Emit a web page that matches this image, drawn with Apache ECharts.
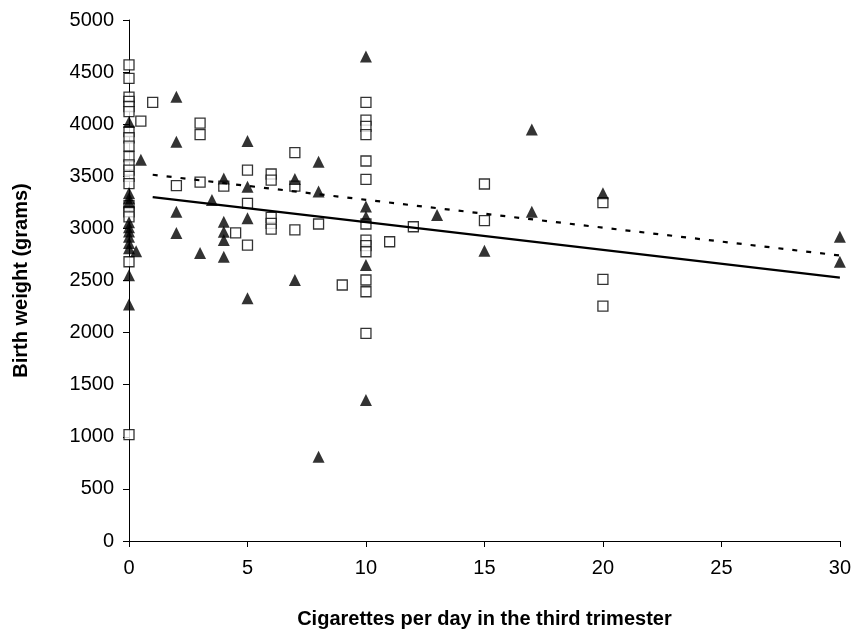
<!DOCTYPE html>
<html>
<head>
<meta charset="utf-8">
<script src="https://cdn.jsdelivr.net/npm/echarts@6/dist/echarts.min.js"></script>
<style>html,body{margin:0;padding:0;background:#fff;}#c{width:854px;height:635px;}</style>
</head>
<body>
<div id="c"></div>
<script>
// Open squares group: [cigarettes/day, birth weight]
const squarePoints = [
  [0,4570],[0,4440],[0,4260],[0,4220],[0,4170],[0,4120],[0,3930],[0,3870],[0,3790],[0,3690],
  [0,3610],[0,3560],[0,3500],[0,3430],[0,3220],[0,3160],[0,3110],[0,2680],[0,1020],
  [0.5,4030],[1,4210],
  [2,3410],[3,4010],[3,3900],[3,3445],
  [4,3406],[4.5,2958],[5,3560],[5,3240],[5,2840],
  [6,3522],[6,3464],[6,3106],[6,3049],[6,2994],
  [7,3727],[7,3406],[7,2985],[8,3042],[9,2457],
  [10,4210],[10,4040],[10,3980],[10,3900],[10,3647],[10,3471],[10,3042],[10,2888],[10,2834],
  [10,2776],[10,2505],[10,2392],[10,1993],
  [11,2872],[12,3016],[15,3426],[15,3074],[20,3247],[20,2511],[20,2255]
];
// Filled triangles group
const trianglePoints = [
  [0,4020],[0,3340],[0,3290],[0,3250],[0,3060],[0,3010],[0,2970],[0,2920],[0,2860],[0,2810],
  [0,2550],[0,2270],
  [0.5,3660],[0.3,2780],
  [2,4264],[2,3832],[2,3160],[2,2955],[3,2764],[3.5,3272],
  [4,3480],[4,3064],[4,2968],[4,2888],[4,2728],
  [5,3838],[5,3400],[5,3097],[5,2329],
  [7,3474],[7,2505],[8,3640],[8,3353],[8,809],
  [10,4650],[10,3209],[10,3113],[10,2649],[10,1353],
  [13,3129],[15,2786],[17,3950],[17,3160],[20,3337],[30,2920],[30,2680]
];
// Regression lines (endpoints)
const solidLine = [[1,3300],[30,2527]];
const dashedLine = [[1,3515],[30,2740]];

const xTicks = [0,5,10,15,20,25,30];
const yTicks = [0,500,1000,1500,2000,2500,3000,3500,4000,4500,5000];

const chart = echarts.init(document.getElementById('c'), null, {renderer:'canvas'});
const font = 'Liberation Sans, Arial, sans-serif';
chart.setOption({
  animation: false,
  backgroundColor: '#fff',
  grid: {left:129, right:11, top:20, bottom:94, containLabel:false},
  xAxis: {
    type:'value', min:xTicks[0], max:xTicks[xTicks.length-1], interval:5,
    name:'Cigarettes per day in the third trimester',
    nameLocation:'middle', nameGap:68,
    nameTextStyle:{fontFamily:font, fontWeight:'bold', fontSize:20, color:'#000'},
    axisLine:{show:true, onZero:false, lineStyle:{color:'#000', width:1}},
    axisTick:{show:true, inside:false, length:6, lineStyle:{color:'#000'}},
    axisLabel:{fontFamily:font, fontSize:20, color:'#000', margin:17, formatter:v=>String(v)},
    splitLine:{show:false}
  },
  yAxis: {
    type:'value', min:yTicks[0], max:yTicks[yTicks.length-1], interval:500,
    name:'Birth weight (grams)',
    nameLocation:'middle', nameGap:98,
    nameTextStyle:{fontFamily:font, fontWeight:'bold', fontSize:20, color:'#000'},
    axisLine:{show:true, onZero:false, lineStyle:{color:'#000', width:1}},
    axisTick:{show:true, inside:false, length:6, lineStyle:{color:'#000'}},
    axisLabel:{fontFamily:font, fontSize:20, color:'#000', margin:15, formatter:v=>String(v)},
    splitLine:{show:false}
  },
  series: [
    {type:'scatter', data:squarePoints, symbol:'rect', symbolSize:10,
     itemStyle:{color:'#fff', borderColor:'#000', borderWidth:1.3}, z:2},
    {type:'scatter', data:trianglePoints, symbol:'triangle', symbolSize:12,
     itemStyle:{color:'#000'}, z:3},
    {type:'line', data:solidLine, symbol:'none', lineStyle:{color:'#000', width:2.2, type:'solid'}, z:4},
    {type:'line', data:dashedLine, symbol:'none', lineStyle:{color:'#000', width:2.2, type:[5,9]}, z:4}
  ]
});
</script>
</body>
</html>
